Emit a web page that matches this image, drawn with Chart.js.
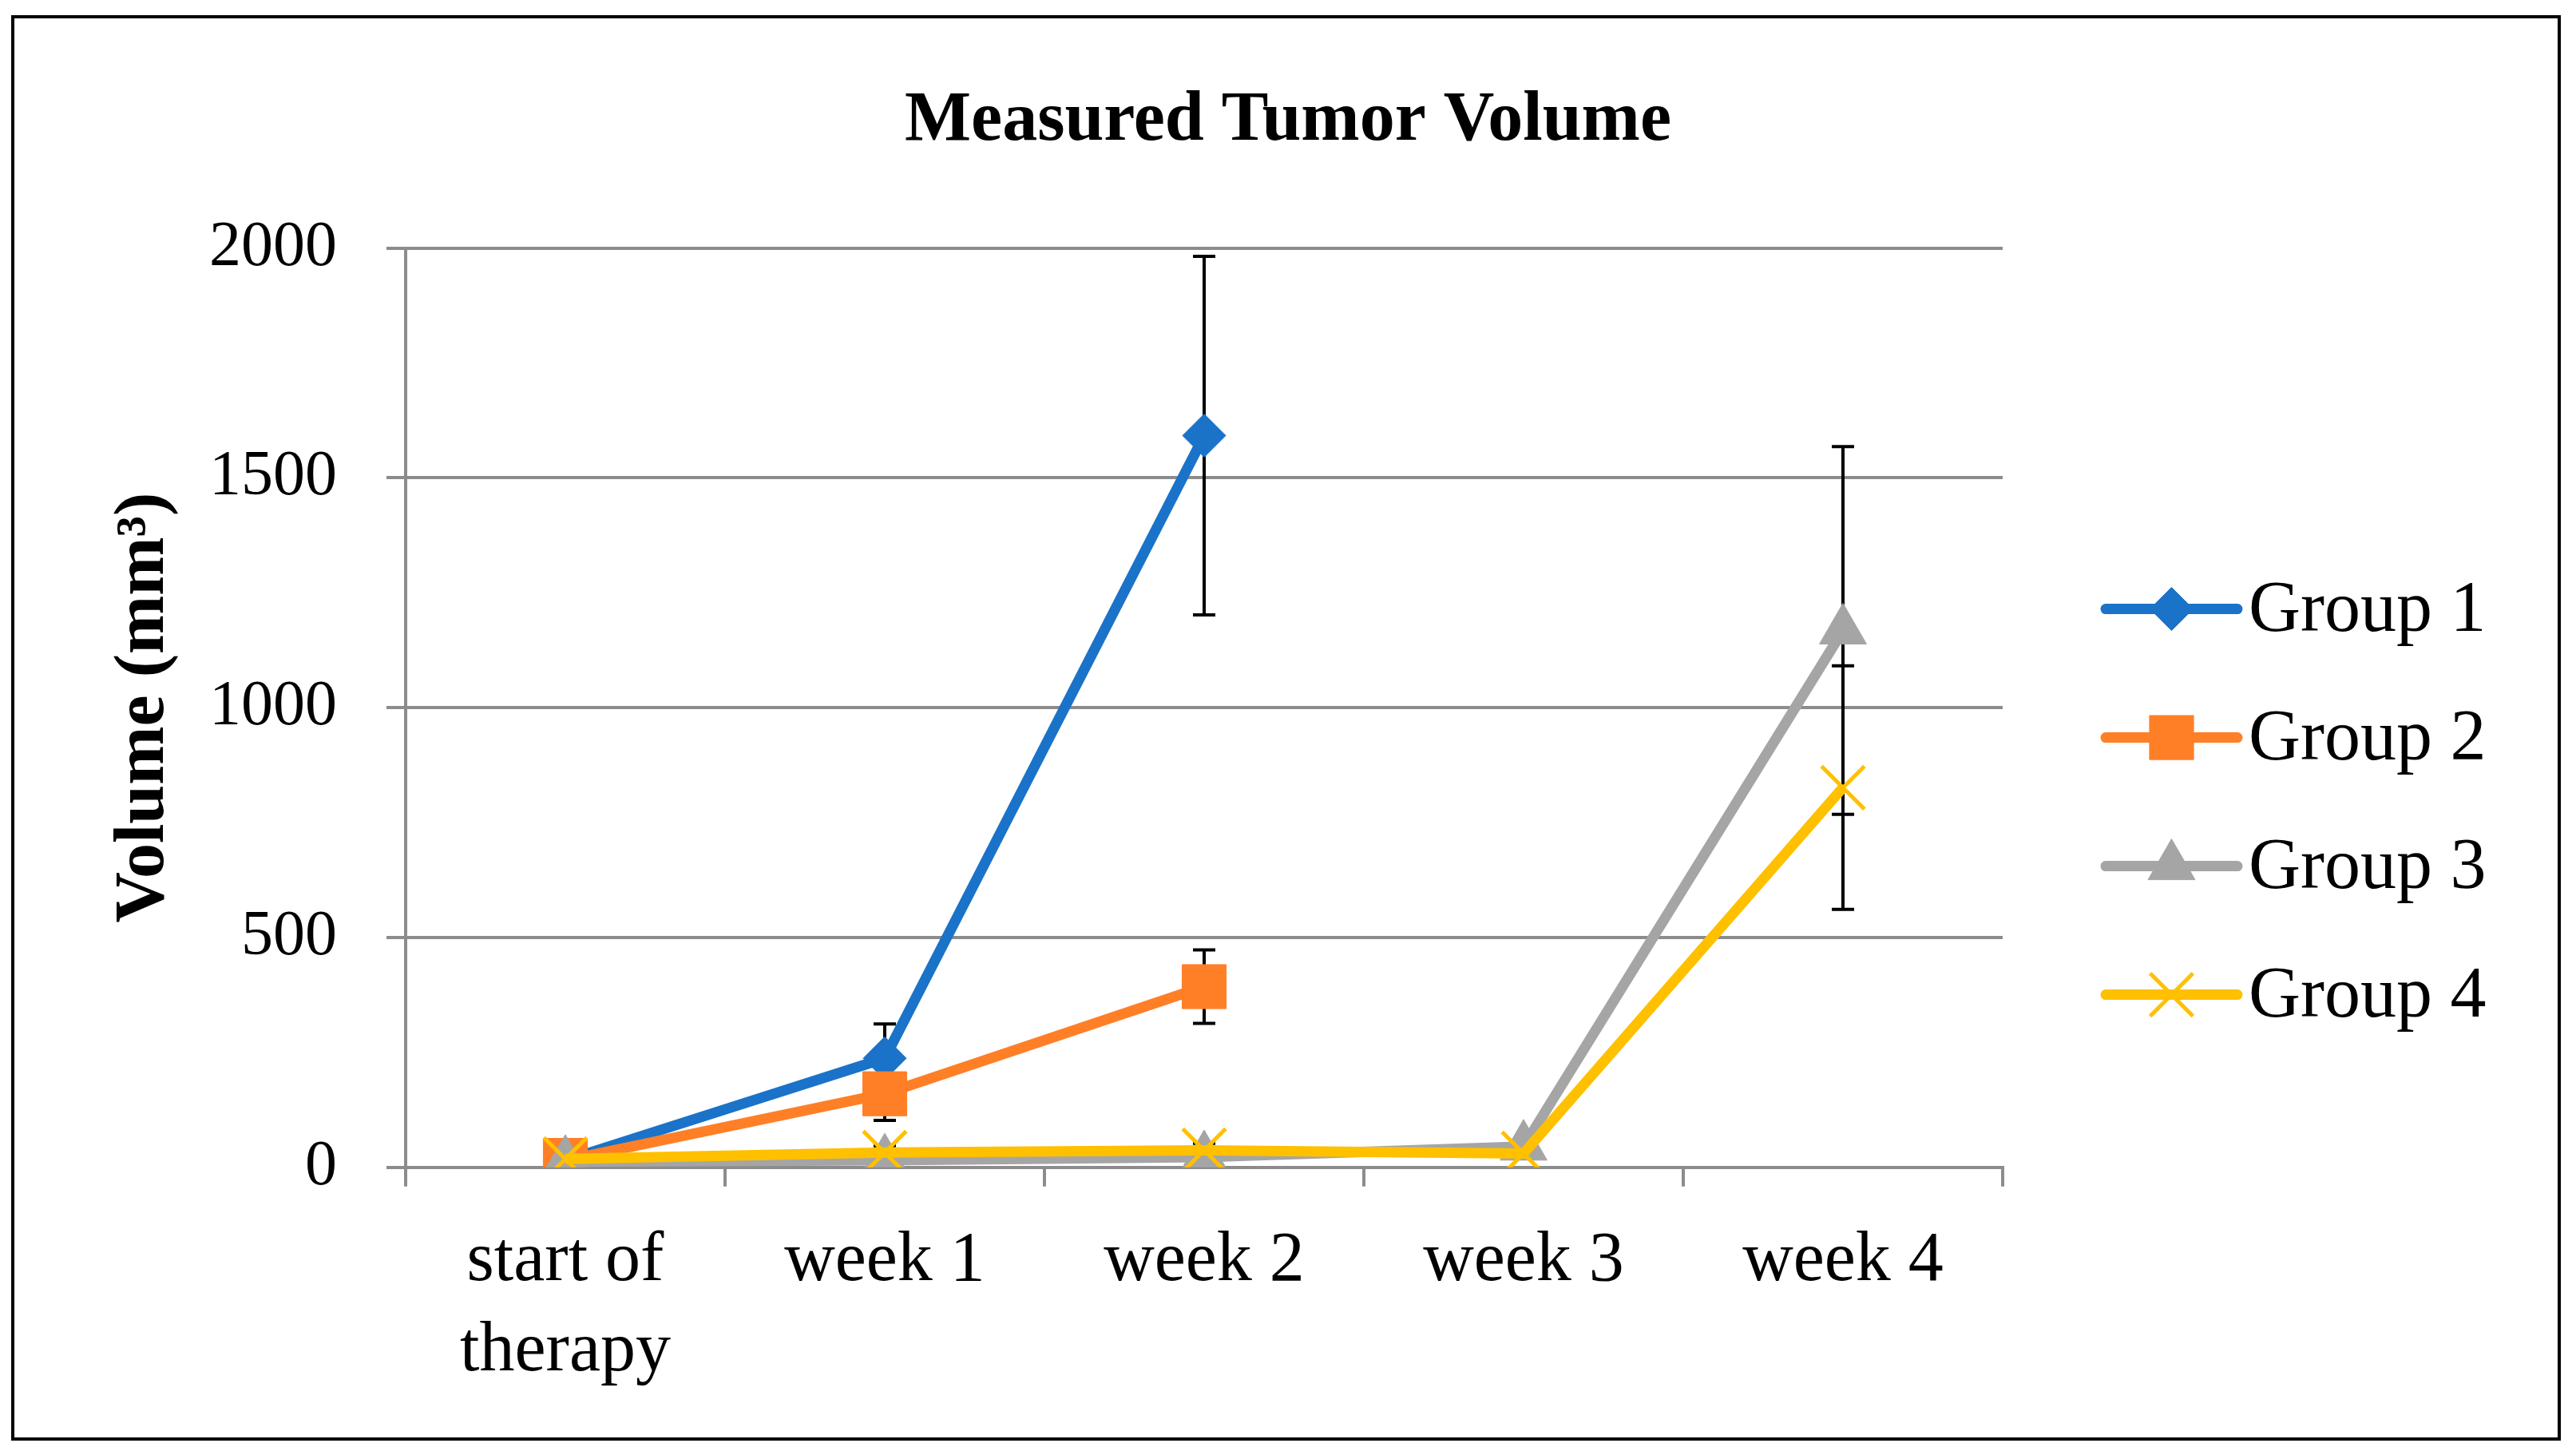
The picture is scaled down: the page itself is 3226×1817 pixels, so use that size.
<!DOCTYPE html>
<html>
<head>
<meta charset="utf-8">
<script src="https://cdn.jsdelivr.net/npm/chart.js"></script>
<style>
  html, body { margin: 0; padding: 0; background: #fff; }
  #wrap { width: 3226px; height: 1817px; position: relative; }
</style>
</head>
<body>
<div id="wrap"><canvas id="grafico"></canvas></div>
<script>
// data (mm³)
const categorias = [['start of', 'therapy'], 'week 1', 'week 2', 'week 3', 'week 4'];
const nomes = ['Group 1', 'Group 2', 'Group 3', 'Group 4'];
const grupo1 = [15, 237, 1592, null, null];
const grupo2 = [15, 160, 393, null, null];
const grupo3 = [12, 15, 22, 45, 1168];
const grupo4 = [18, 32, 37, 30, 826];
const erro1 = [3, 75, 390, null, null];
const erro2 = [3, 58, 80, null, null];
const erro3 = [2, 8, 10, 8, 400];
const erro4 = [3, 15, 15, 10, 265];
const yMax = 2000;
const yPasso = 500;

const cores = ['#1A73C8', '#FF7F27', '#A5A5A5', '#FFC000'];
const fonte = 'Liberation Serif';
const cinza = '#8C8C8C';

// moldura preta em volta do gráfico
const moldura = {
  id: 'moldura',
  beforeDraw(chart) {
    const ctx = chart.ctx;
    ctx.save();
    ctx.fillStyle = '#fff';
    ctx.fillRect(0, 0, chart.width, chart.height);
    ctx.strokeStyle = '#000';
    ctx.lineWidth = 4;
    ctx.strokeRect(16, 21, 3189, 1781);
    ctx.restore();
  }
};

// barras de erro desenhadas pelas escalas do próprio gráfico
const barrasErro = {
  id: 'barrasErro',
  beforeDatasetsDraw(chart) {
    const ctx = chart.ctx;
    const xs = chart.scales.x, ys = chart.scales.y;
    ctx.save();
    ctx.strokeStyle = '#000';
    ctx.lineWidth = 4;
    chart.data.datasets.forEach(ds => {
      ds.data.forEach((v, i) => {
        const e = ds.erro[i];
        if (v == null || e == null) return;
        const x = xs.getPixelForValue(i);
        const yA = ys.getPixelForValue(v + e);
        const yB = ys.getPixelForValue(v - e);
        ctx.beginPath();
        ctx.moveTo(x, yA); ctx.lineTo(x, yB);
        ctx.moveTo(x - 14, yA); ctx.lineTo(x + 14, yA);
        ctx.moveTo(x - 14, yB); ctx.lineTo(x + 14, yB);
        ctx.stroke();
      });
    });
    ctx.restore();
  }
};

// legenda com linha + marcador, como no Excel
const legenda = {
  id: 'legenda',
  afterDraw(chart) {
    const ctx = chart.ctx;
    const a = chart.chartArea;
    const x0 = a.right + 129, x1 = a.right + 294;
    ctx.save();
    chart.data.datasets.forEach((ds, i) => {
      const y = a.top + 452 + i * 161;
      ctx.strokeStyle = ds.borderColor;
      ctx.lineWidth = ds.borderWidth;
      ctx.lineCap = 'round';
      ctx.beginPath();
      ctx.moveTo(x0, y); ctx.lineTo(x1, y);
      ctx.stroke();
      ctx.lineCap = 'butt';
      ctx.fillStyle = ds.pointBackgroundColor;
      ctx.strokeStyle = ds.pointBorderColor;
      ctx.lineWidth = ds.pointBorderWidth;
      Chart.helpers.drawPoint(ctx, {
        pointStyle: ds.pointStyle, radius: ds.pointRadius,
        rotation: 0, borderWidth: ds.pointBorderWidth
      }, (x0 + x1) / 2, y);
      ctx.fillStyle = '#000';
      ctx.font = '90px "' + fonte + '"';
      ctx.textBaseline = 'middle';
      ctx.textAlign = 'left';
      ctx.fillText(ds.label, x1 + 14, y + 4);
    });
    ctx.restore();
  }
};

function serie(i, dados, erro, estilo, raio, bw) {
  return {
    label: nomes[i],
    data: dados,
    erro: erro,
    borderColor: cores[i],
    backgroundColor: cores[i],
    borderWidth: 13,
    pointStyle: estilo,
    pointRadius: raio,
    pointHoverRadius: raio,
    pointBackgroundColor: cores[i],
    pointBorderColor: cores[i],
    pointBorderWidth: bw,
    tension: 0,
    fill: false,
    order: 4 - i
  };
}

const ctx = document.getElementById('grafico').getContext('2d');
new Chart(ctx, {
  type: 'line',
  data: {
    labels: categorias,
    datasets: [
      serie(0, grupo1, erro1, 'rectRot', 27, 1),
      serie(1, grupo2, erro2, 'rect', 39, 1),
      serie(2, grupo3, erro3, 'triangle', 34, 1),
      serie(3, grupo4, erro4, 'crossRot', 38, 5)
    ]
  },
  options: {
    responsive: true,
    maintainAspectRatio: false,
    devicePixelRatio: 1,
    animation: false,
    layout: { padding: { left: 0, right: 0, top: 0, bottom: 30 } },
    plugins: {
      legend: { display: false },
      tooltip: { enabled: false },
      title: {
        display: true,
        text: 'Measured Tumor Volume',
        color: '#000',
        font: { family: fonte, size: 88, weight: 'bold', lineHeight: 1.2 },
        padding: { top: 99, bottom: 106 }
      }
    },
    scales: {
      x: {
        offset: true,
        grid: { offset: true, drawOnChartArea: false, drawTicks: true, tickLength: 24, color: cinza, lineWidth: 4 },
        border: { display: true, color: cinza, width: 4 },
        ticks: {
          color: '#000', autoSkip: false, maxRotation: 0, padding: 38,
          font: { family: fonte, size: 88, lineHeight: 1.28 }
        }
      },
      y: {
        min: 0, max: yMax,
        afterFit(scale) { scale.width = 508; },
        grid: { color: cinza, lineWidth: 4, tickLength: 24 },
        border: { display: true, color: cinza, width: 4 },
        ticks: {
          stepSize: yPasso, color: '#000', padding: 62,
          font: { family: fonte, size: 80 },
          callback: v => String(v)
        },
        title: {
          display: true,
          text: 'Volume (mm³)',
          color: '#000',
          font: { family: fonte, size: 88, weight: 'bold', lineHeight: 1.2 },
          padding: { top: 128, bottom: 0 }
        }
      },
      // eixo vazio à direita: reserva o espaço da legenda sem deslocar o título
      espaco: {
        axis: 'y',
        position: 'right',
        min: 0, max: yMax,
        afterFit(scale) { scale.width = 718; },
        grid: { drawOnChartArea: false, drawTicks: false },
        border: { display: false },
        ticks: { display: false }
      }
    }
  },
  plugins: [moldura, barrasErro, legenda]
});
</script>
</body>
</html>
